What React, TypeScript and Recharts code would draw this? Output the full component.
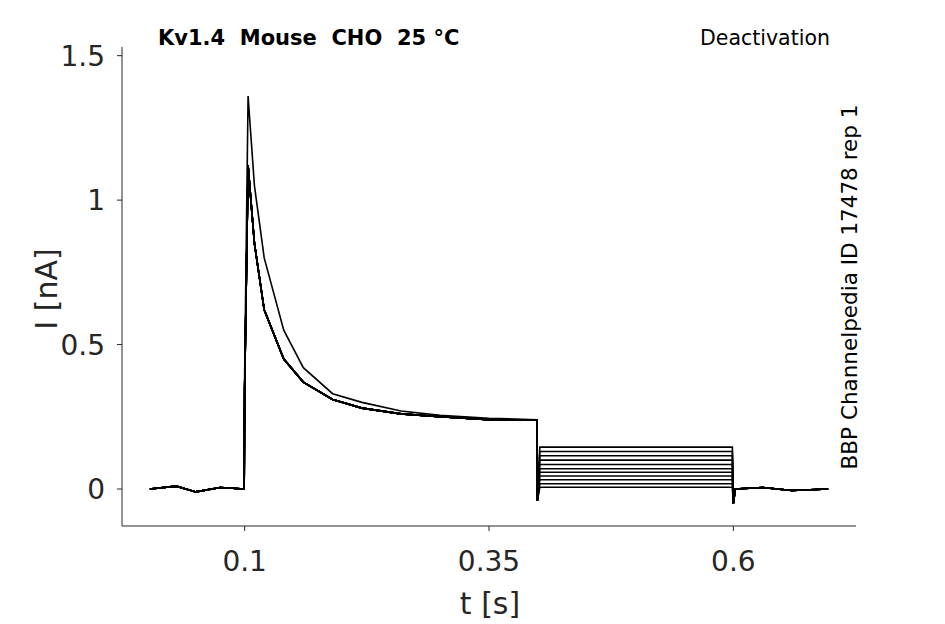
import React from "react";
import { LineChart, Line, XAxis, YAxis } from "recharts";

const T = [0.003, 0.03, 0.05, 0.075, 0.0995, 0.1, 0.1035, 0.11, 0.12, 0.14, 0.16, 0.19, 0.22, 0.26, 0.3, 0.35, 0.399, 0.3995, 0.402, 0.45, 0.5, 0.55, 0.599, 0.6, 0.602, 0.63, 0.66, 0.697];

const X_TICKS = [0.1, 0.35, 0.6];
const Y_TICKS = [0, 0.5, 1, 1.5];

// deactivation step levels, one per sweep
const LEVELS = [0.145, 0.13, 0.115, 0.1, 0.085, 0.07, 0.058, 0.045, 0.032, 0.018, 0.006];

const DECAY = [0, 0.01, -0.01, 0.005, 0, 0.35, 1.12, 0.85, 0.62, 0.45, 0.37, 0.31, 0.28, 0.26, 0.25, 0.24, 0.24];
const DECAY_TALL = [0, 0.01, -0.01, 0.005, 0, 0.4, 1.36, 1.05, 0.8, 0.55, 0.42, 0.33, 0.3, 0.27, 0.255, 0.245, 0.24];
const TAIL = [0, 0.005, -0.005, 0];

const traces = LEVELS.map((lv, k) => {
  const head = k === 0 ? DECAY_TALL : DECAY;
  const vals = [...head, -0.04, lv, lv, lv, lv, lv, -0.05, ...TAIL];
  return T.map((t, i) => ({ t, v: vals[i] }));
});

const txt = "#262626";

export default function App() {
  return (
    <div style={{ position: "fixed", left: 0, top: 0, width: 945, height: 624, background: "#fff", fontFamily: "DejaVu Sans" }}>
      <LineChart width={945} height={624} margin={{ top: 47, right: 89, left: 62, bottom: 38 }}>
        <XAxis
          dataKey="t"
          type="number"
          domain={[-0.0255, 0.7255]}
          ticks={X_TICKS}
          allowDuplicatedCategory={false}
          height={60}
          tickSize={5}
          tickMargin={20}
          stroke="#262626"
          tick={{ fontSize: 28, fill: txt }}
        />
        <YAxis
          type="number"
          domain={[-0.128, 1.53]}
          ticks={Y_TICKS}
          width={60}
          tickSize={5}
          tickMargin={12}
          stroke="#262626"
          tick={{ fontSize: 28, fill: txt }}
        />
        {traces.map((d, k) => (
          <Line key={k} data={d} dataKey="v" stroke="#000" strokeWidth={1.6} dot={false} isAnimationActive={false} />
        ))}
      </LineChart>
      <div style={{ position: "absolute", left: 158, top: 26, fontSize: 21, fontWeight: "bold", color: "#000", whiteSpace: "pre" }}>
        Kv1.4  Mouse  CHO  25 °C
      </div>
      <div style={{ position: "absolute", left: 700, top: 26, fontSize: 20.5, color: "#000" }}>Deactivation</div>
      <div style={{ position: "absolute", left: 240, top: 586, width: 500, textAlign: "center", fontSize: 30, color: txt }}>t [s]</div>
      <div style={{ position: "absolute", left: 46, top: 289, width: 0, height: 0 }}>
        <div style={{ position: "absolute", transform: "translate(-50%,-50%) rotate(-90deg)", fontSize: 30, color: txt, whiteSpace: "nowrap" }}>I [nA]</div>
      </div>
      <div style={{ position: "absolute", left: 849, top: 287, width: 0, height: 0 }}>
        <div style={{ position: "absolute", transform: "translate(-50%,-50%) rotate(-90deg)", fontSize: 21.5, color: "#000", whiteSpace: "nowrap" }}>
          BBP Channelpedia ID 17478 rep 1
        </div>
      </div>
    </div>
  );
}
